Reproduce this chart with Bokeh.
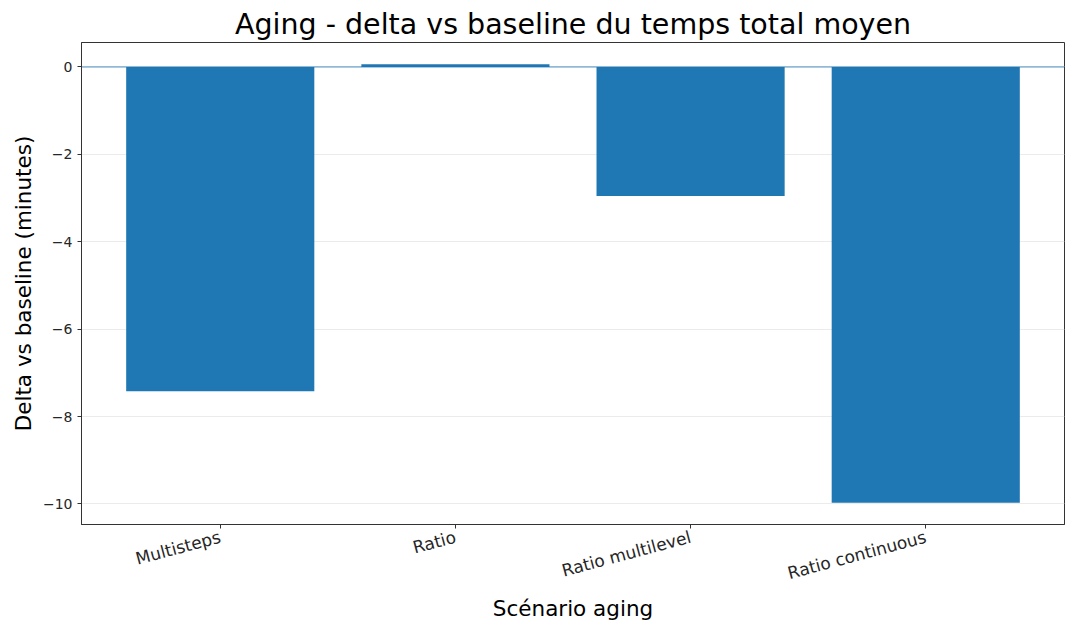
import math
from bokeh.plotting import figure
from bokeh.models import FixedTicker, Span, Title
from bokeh.embed import file_html
from bokeh.resources import INLINE

# Data
scenarios = ["Multisteps", "Ratio", "Ratio multilevel", "Ratio continuous"]
deltas = [-7.42, 0.06, -2.95, -9.97]
y_ticks = [0, -2, -4, -6, -8, -10]
y_tick_labels = ["0", "−2", "−4", "−6", "−8", "−10"]

xs = list(range(len(scenarios)))
FONT = "DejaVu Sans"

p = figure(
    width=1065, height=623,
    x_range=(-0.59, 3.59), y_range=(-10.47, 0.56),
    output_backend="svg", toolbar_location=None,
    min_border_left=81, min_border_right=1, min_border_top=42, min_border_bottom=98,
)
p.title = Title(text="Aging - delta vs baseline du temps total moyen", align="center",
                text_font=FONT, text_font_size="28.5px", text_font_style="normal",
                text_color="#000000", offset=0, standoff=3)

p.vbar(x=xs, top=deltas, bottom=0, width=0.8, fill_color="#1f77b4", line_color=None)

p.add_layout(Span(location=0, dimension="width", line_color="#1f77b4", line_width=1, line_alpha=0.8))

# axes
p.xaxis.ticker = FixedTicker(ticks=xs)
p.xaxis.major_label_overrides = {i: s for i, s in enumerate(scenarios)}
p.xaxis.major_label_orientation = math.radians(15)
p.yaxis.ticker = FixedTicker(ticks=y_ticks)
p.yaxis.major_label_overrides = {t: l for t, l in zip(y_ticks, y_tick_labels)}

for ax in (p.xaxis, p.yaxis):
    ax.minor_tick_line_color = None
    ax.major_tick_out = 4
    ax.major_tick_in = 0
    ax.axis_line_color = "#333333"
    ax.major_tick_line_color = "#333333"
    ax.major_label_text_font = FONT
    ax.major_label_text_color = "#262626"
    ax.axis_label_text_font = FONT
    ax.axis_label_text_font_style = "normal"
    ax.axis_label_text_color = "#000000"
    ax.axis_label_text_font_size = "21.5px"

p.xaxis.major_label_text_font_size = "17px"
p.yaxis.major_label_text_font_size = "14px"
p.xaxis.major_label_standoff = 8
p.yaxis.major_label_standoff = 5
p.xaxis.axis_label = "Scénario aging"
p.yaxis.axis_label = "Delta vs baseline (minutes)"
p.xaxis.axis_label_standoff = 0
p.yaxis.axis_label_standoff = 4

p.xgrid.grid_line_color = None
p.ygrid.grid_line_color = "#ebebeb"
p.ygrid.grid_line_width = 1

p.outline_line_color = "#333333"
p.outline_line_width = 1

open("out.html", "w").write(file_html(p, INLINE))
